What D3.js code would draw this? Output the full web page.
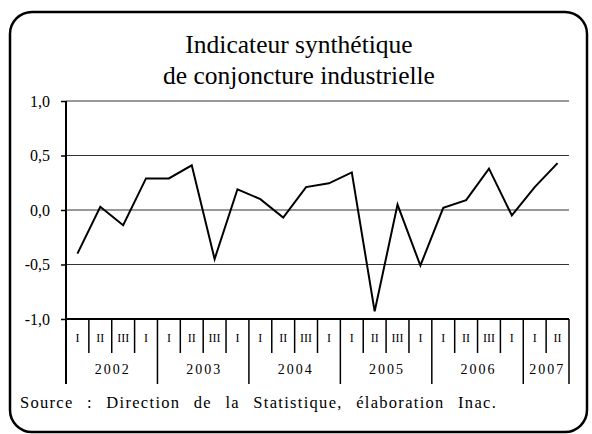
<!DOCTYPE html>
<html><head><meta charset="utf-8">
<script src="https://cdn.jsdelivr.net/npm/d3@7"></script>
<style>body{margin:0;background:#fff}svg{display:block}</style>
</head><body>
<svg id="c" width="592" height="434"></svg>
<script>
const titleLines = ["Indicateur synthétique", "de conjoncture industrielle"];
const years = ["2002", "2003", "2004", "2005", "2006", "2007"];
const quartersPerYear = [4, 4, 4, 4, 4, 2];
const quarterLabels = ["I", "II", "III", "I"];
const values = [-0.40, 0.03, -0.14, 0.29, 0.29, 0.41, -0.45, 0.19, 0.10, -0.07, 0.21, 0.245, 0.345, -0.93, 0.05, -0.51, 0.02, 0.09, 0.38, -0.05, 0.21, 0.43];
const yTicks = [-1.0, -0.5, 0.0, 0.5, 1.0];
const source = "Source : Direction de la Statistique, élaboration Inac.";

const svg = d3.select("#c");
const font = "'Liberation Serif','Times New Roman',serif";

svg.append("rect").attr("x", 10).attr("y", 12).attr("width", 577).attr("height", 420)
  .attr("rx", 22).attr("fill", "#fff").attr("stroke", "#000").attr("stroke-width", 2.5);

svg.selectAll("text.title").data(titleLines).join("text")
  .attr("x", 299).attr("y", (d, i) => 53 + i * 31)
  .attr("text-anchor", "middle").attr("font-family", font).attr("font-size", 25.5).text(d => d);

const cats = [];
years.forEach((y, yi) => { for (let q = 0; q < quartersPerYear[yi]; q++) cats.push({year: y, q: quarterLabels[q], key: y + "-" + q}); });

const x = d3.scaleBand().domain(cats.map(c => c.key)).range([66, 569]).paddingInner(0).paddingOuter(0);
const y = d3.scaleLinear().domain([-1, 1]).range([319, 101]);

// gridlines
const g = svg.append("g");
g.selectAll("line.grid").data(yTicks.filter(t => t > -1)).join("line")
  .attr("x1", 66).attr("x2", 569).attr("y1", d => y(d)).attr("y2", d => y(d))
  .attr("stroke", "#333").attr("stroke-width", 1);

// y axis
const yAxis = d3.axisLeft(y).tickValues(yTicks).tickSize(5).tickPadding(11)
  .tickFormat(d => d3.format(".1f")(d).replace(".", ",").replace("−", "-"));
const ya = svg.append("g").attr("transform", "translate(66,0)").call(yAxis);
ya.select(".domain").remove();
ya.selectAll(".tick line").attr("stroke", "#000").attr("stroke-width", 1.5);
ya.selectAll(".tick text").attr("font-family", font).attr("font-size", 16).attr("fill", "#000");

// axis lines
svg.append("line").attr("x1", 66).attr("x2", 66).attr("y1", 101).attr("y2", 384).attr("stroke", "#000").attr("stroke-width", 2);
svg.append("line").attr("x1", 66).attr("x2", 569).attr("y1", 319).attr("y2", 319).attr("stroke", "#000").attr("stroke-width", 2);

// category table: quarter dividers
const bounds = cats.map(c => x(c.key)).concat([569]);
let yearStarts = [];
let idx = 0;
quartersPerYear.forEach(n => { yearStarts.push(idx); idx += n; });
yearStarts.push(cats.length);
bounds.forEach((b, i) => {
  const isYear = yearStarts.includes(i);
  svg.append("line").attr("x1", b).attr("x2", b).attr("y1", 319).attr("y2", isYear ? 384 : 353)
    .attr("stroke", "#000").attr("stroke-width", 1.5);
});
svg.selectAll("text.q").data(cats).join("text")
  .attr("x", d => x(d.key) + x.bandwidth() / 2).attr("y", 342)
  .attr("text-anchor", "middle").attr("font-family", font).attr("font-size", 12).text(d => d.q);
svg.selectAll("text.yr").data(years).join("text")
  .attr("x", (d, i) => (bounds[yearStarts[i]] + bounds[yearStarts[i + 1]]) / 2 + 1).attr("y", 374)
  .attr("text-anchor", "middle").attr("font-family", font).attr("font-size", 14)
  .attr("letter-spacing", 2).text(d => d);

// line
const line = d3.line().x((d, i) => x(cats[i].key) + x.bandwidth() / 2).y(d => y(d));
svg.append("path").datum(values).attr("d", line).attr("fill", "none")
  .attr("stroke", "#000").attr("stroke-width", 2).attr("stroke-linejoin", "miter");

svg.append("text").attr("x", 20).attr("y", 408).attr("font-family", font).attr("font-size", 16.5)
  .attr("letter-spacing", 1.3).attr("word-spacing", 8).text(source);
</script>
</body></html>
